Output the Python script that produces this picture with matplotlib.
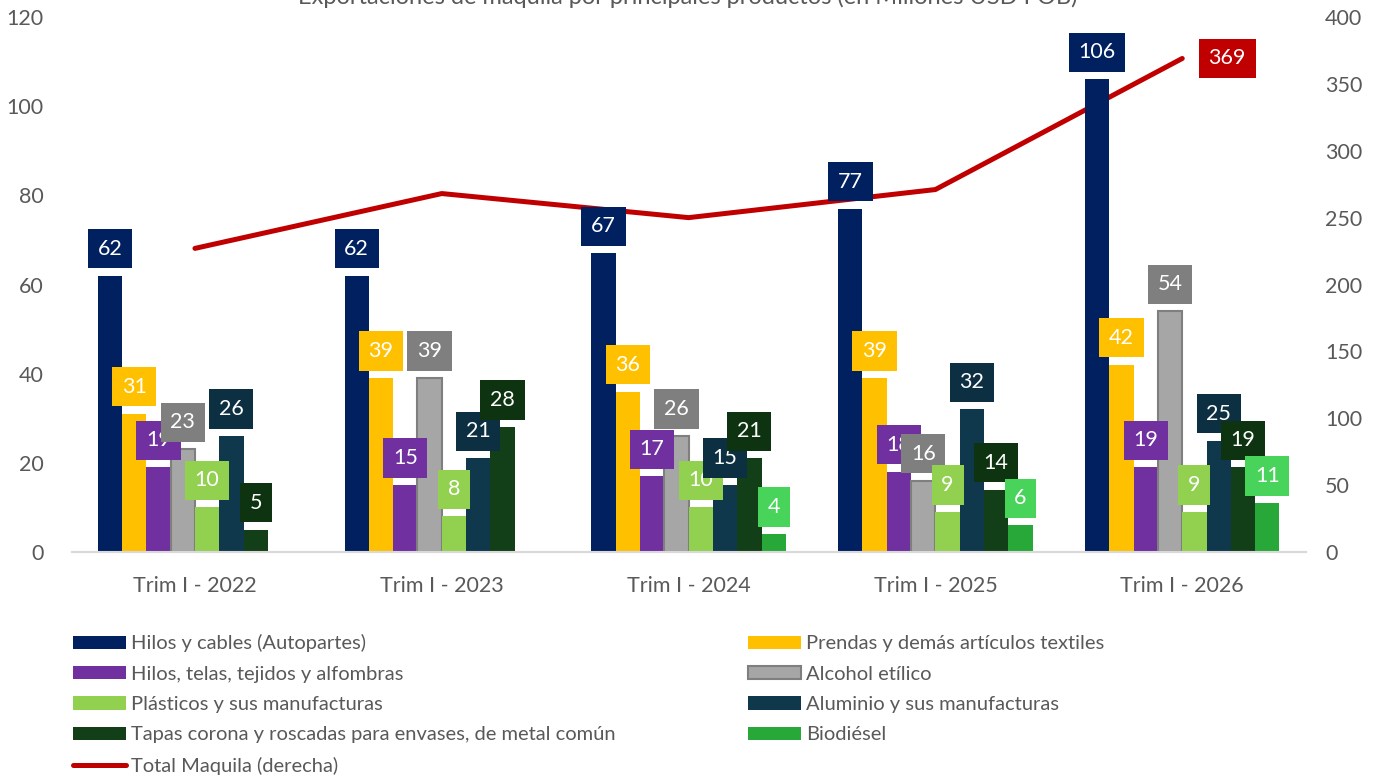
import numpy as np
import matplotlib.pyplot as plt
from matplotlib.lines import Line2D
from matplotlib.patches import Patch

# Exportaciones de maquila, millones USD FOB
periods = ["Trim I - 2022", "Trim I - 2023", "Trim I - 2024", "Trim I - 2025", "Trim I - 2026"]

hilos_cables = [62, 62, 67, 77, 106]
prendas = [31, 39, 36, 39, 42]
hilos_telas = [19, 15, 17, 18, 19]
alcohol = [23, 39, 26, 16, 54]
plasticos = [10, 8, 10, 9, 9]
aluminio = [26, 21, 15, 32, 25]
tapas = [5, 28, 21, 14, 19]
biodiesel = [np.nan, np.nan, 4, 6, 11]
total_maquila = [227, 268, 250, 271, 369]

series = [
    ("Hilos y cables (Autopartes)", hilos_cables, "#002060", "#002060"),
    ("Prendas y demás artículos textiles", prendas, "#FFC000", "#FFC000"),
    ("Hilos, telas, tejidos y alfombras", hilos_telas, "#7030A0", "#7030A0"),
    ("Alcohol etílico", alcohol, "#A6A6A6", "#7F7F7F"),
    ("Plásticos y sus manufacturas", plasticos, "#92D050", "#92D050"),
    ("Aluminio y sus manufacturas", aluminio, "#10384C", "#0D2F42"),
    ("Tapas corona y roscadas para envases, de metal común", tapas, "#123F17", "#0E3311"),
    ("Biodiésel", biodiesel, "#29A83A", "#48D45A"),
]

TEXT = "#595959"
LINE_RED = "#C00000"
plt.rcParams["font.family"] = ["Lato", "DejaVu Sans"]

fig = plt.figure(figsize=(13.89, 7.8), dpi=100)
ax = fig.add_axes([0.0515, 0.2923, 0.8885, 0.6859])
ax2 = ax.twinx()

x = np.arange(len(periods))
w = 0.0985
n = len(series)

for i, (name, vals, col, lab_col) in enumerate(series):
    pos = x - n * w / 2 + (i + 0.5) * w
    vals = np.array(vals, dtype=float)
    if name == "Alcohol etílico":
        ax.bar(pos, vals, w, color=col, edgecolor="#7F7F7F", linewidth=1.5, zorder=2)
    else:
        ax.bar(pos, vals, w, color=col, edgecolor="none", zorder=2)
    for p, v in zip(pos, vals):
        if np.isnan(v):
            continue
        ax.annotate(f"{v:.0f}", (p, v), xytext=(0, 27), textcoords="offset pixels",
                    ha="center", va="center", color="white", fontsize=15.5,
                    bbox=dict(boxstyle="square,pad=0.45", fc=lab_col, ec="none"),
                    zorder=5 + i)

ax2.plot(x, total_maquila, color=LINE_RED, linewidth=3.6, solid_capstyle="round", zorder=3)
ax2.annotate(f"{total_maquila[-1]}", (x[-1], total_maquila[-1]), xytext=(45, 0),
             textcoords="offset pixels", ha="center", va="center", color="white",
             fontsize=15.5, bbox=dict(boxstyle="square,pad=0.45", fc=LINE_RED, ec="none"))

ax.set_xlim(-0.5, len(periods) - 0.5)
ax.set_ylim(0, 120)
ax2.set_ylim(0, 400)
ax.set_yticks(range(0, 121, 20))
ax2.set_yticks(range(0, 401, 50))
ax.set_xticks(x)
ax.set_xticklabels(periods)

for a in (ax, ax2):
    for s in ("top", "left", "right"):
        a.spines[s].set_visible(False)
    a.spines["bottom"].set_color("#D9D9D9")
    a.spines["bottom"].set_linewidth(1.5)
    a.tick_params(length=0, labelsize=15.5, colors=TEXT)
ax.tick_params(axis="x", pad=17)
ax.tick_params(axis="y", pad=20)
ax2.tick_params(axis="y", pad=14)
ax.set_zorder(ax2.get_zorder() + 1)
ax.patch.set_visible(False)

fig.text(0.495, 1.0 + 3 / 780, "Exportaciones de maquila por principales productos (en Millones USD FOB)",
         ha="center", va="center", fontsize=17, color=TEXT)

# legend: left column then right column
order = [
    "Hilos y cables (Autopartes)",
    "Hilos, telas, tejidos y alfombras",
    "Plásticos y sus manufacturas",
    "Tapas corona y roscadas para envases, de metal común",
    "Total Maquila (derecha)",
    "Prendas y demás artículos textiles",
    "Alcohol etílico",
    "Aluminio y sus manufacturas",
    "Biodiésel",
]
colors = {name: (col, name == "Alcohol etílico") for name, _, col, _ in series}
leg_handles = []
for name in order:
    if name == "Total Maquila (derecha)":
        leg_handles.append(Line2D([], [], color=LINE_RED, linewidth=3.6, solid_capstyle="round"))
    else:
        col, edged = colors[name]
        leg_handles.append(Patch(facecolor=col, edgecolor="#7F7F7F" if edged else col,
                                 linewidth=1.5 if edged else 0))
fig.legend(leg_handles, order, loc="upper left", bbox_to_anchor=(0.047, 0.197), ncol=2,
           frameon=False, fontsize=14.5, labelcolor=TEXT, handlelength=2.6, handleheight=0.65,
           handletextpad=0.25, labelspacing=0.66, columnspacing=6.6, borderaxespad=0)

fig.savefig("out.png", dpi=100)
